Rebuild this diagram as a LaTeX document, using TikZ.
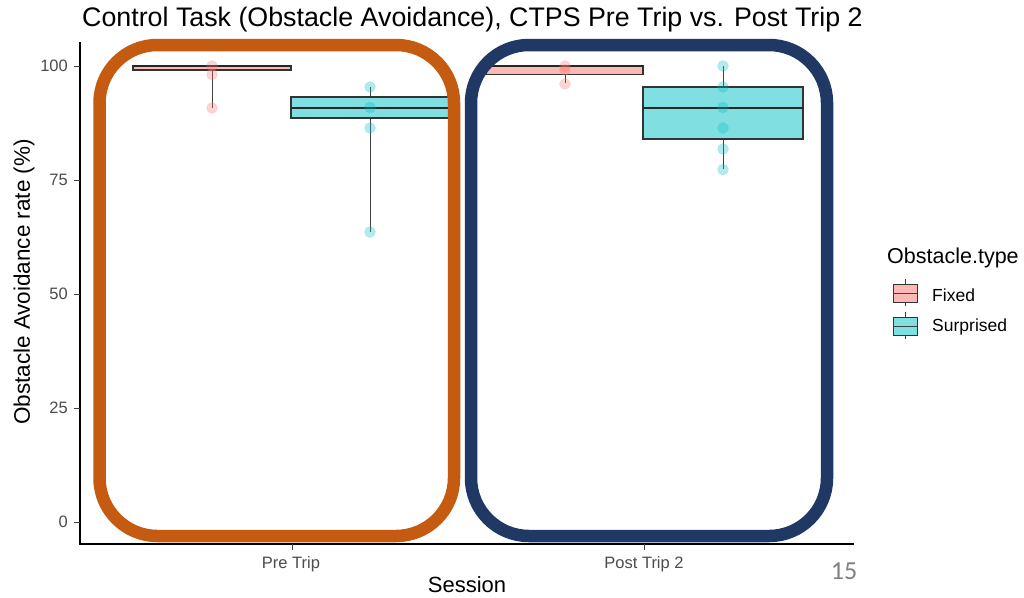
\documentclass[tikz,border=0pt]{standalone}
\usepackage{fontspec}
\setmainfont{Liberation Sans}
\newfontfamily\slidefont{Carlito}
\begin{document}
\begin{tikzpicture}[x=1pt,y=-1pt,
  axisline/.style={line width=1.1pt, draw=black},
  tickmark/.style={line width=0.8pt, draw=black!75},
  ticklabel/.style={font=\fontsize{16.5}{16.5}\selectfont, text=black!70},
  fixedbox/.style={draw=black!80, line width=1.1pt, fill=fixedfill},
  surpbox/.style={draw=black!80, line width=1.1pt, fill=surpfill},
  medianline/.style={draw=black!85, line width=2pt},
  whisker/.style={draw=black!75, line width=1pt},
  fixedpt/.style={circle, inner sep=0pt, minimum size=11pt, fill=fixedcol, fill opacity=0.3, draw=fixedcol, draw opacity=0.2},
  surppt/.style={circle, inner sep=0pt, minimum size=11pt, fill=surpcol, fill opacity=0.3, draw=surpcol, draw opacity=0.2},
  frame/.style={line width=12.5pt, rounded corners=58pt}]
\definecolor{fixedcol}{HTML}{F8766D}
\definecolor{surpcol}{HTML}{00BFC4}
\definecolor{fixedfill}{HTML}{FBB9B5}
\definecolor{surpfill}{HTML}{80DFE1}
\definecolor{framebrown}{HTML}{C55A11}
\definecolor{framenavy}{HTML}{203864}
\useasboundingbox[fill=white] (0,0) rectangle (1024,597);

% title
\node[anchor=west, font=\fontsize{26.8}{26.8}\selectfont, inner sep=0pt] (title) at (82,20) {Control Task (Obstacle Avoidance), CTPS Pre Trip vs. Post Trip 2};

% axes
\coordinate (origin) at (80,544);
\coordinate (ytop) at (80,42);
\coordinate (xend) at (854,544);
\draw[axisline] (ytop) -- (origin) -- (xend);

% y ticks and labels
\foreach \v/\yy in {0/522,25/408,50/294,75/180,100/66}{
  \coordinate (yt\v) at (74,\yy);
  \draw[tickmark] (yt\v) -- ++(6,0);
  \node[ticklabel, anchor=east, inner sep=0pt] (ylab\v) at (68,\yy) {\v};
}
% x ticks and labels
\coordinate (xtpre) at (292,544);
\coordinate (xtpost) at (644,544);
\draw[tickmark] (xtpre) -- ++(0,6);
\draw[tickmark] (xtpost) -- ++(0,6);
\node[ticklabel, inner sep=0pt] (xlabpre) at (291,564) {Pre Trip};
\node[ticklabel, inner sep=0pt] (xlabpost) at (644,564) {Post Trip 2};

% axis titles
\node[font=\fontsize{22.5}{22.5}\selectfont, rotate=90, inner sep=0pt] (ytitle) at (24,282) {Obstacle Avoidance rate (\%)};
\node[font=\fontsize{22}{22}\selectfont, inner sep=0pt] (xtitle) at (467,585) {Session};

% Pre Trip, Fixed
\draw[whisker] (212,70) -- (212,108);
\draw[fixedbox] (133,66) rectangle (291,70);
\draw[medianline] (133,66) -- (291,66);
\foreach \yy in {66,74.5,108} \node[fixedpt] at (212,\yy) {};

% Pre Trip, Surprised
\draw[whisker] (370,87) -- (370,97);
\draw[whisker] (370,118) -- (370,232);
\draw[surpbox] (291,97) rectangle (450,118);
\draw[medianline] (291,107.5) -- (450,107.5);
\foreach \yy in {87,107.5,128,232} \node[surppt] at (370,\yy) {};

% Post Trip 2, Fixed
\draw[whisker] (565,74.5) -- (565,83);
\draw[fixedbox] (486,66) rectangle (643,74.5);
\draw[medianline] (486,66) -- (643,66);
\foreach \yy in {66,70,84} \node[fixedpt] at (565,\yy) {};

% Post Trip 2, Surprised
\draw[whisker] (723,66) -- (723,87);
\draw[whisker] (723,139) -- (723,169);
\draw[surpbox] (643,87) rectangle (803,139);
\draw[medianline] (643,107.5) -- (803,107.5);
\foreach \yy in {66,87,107.5,128,149,169.5} \node[surppt] at (723,\yy) {};

% highlight frames
\draw[frame, draw=framebrown] (99.5,45) rectangle (454,536);
\draw[frame, draw=framenavy] (471,45) rectangle (827,536);

% legend
\node[anchor=west, font=\fontsize{21.5}{21.5}\selectfont, inner sep=0pt] (legtitle) at (887,258) {Obstacle.type};
\draw[whisker] (905,279) -- (905,306);
\draw[fixedbox, line width=1pt] (893,284) rectangle (917,302);
\draw[whisker] (893,293) -- (917,293);
\node[anchor=west, font=\fontsize{17.5}{17.5}\selectfont, inner sep=0pt] (legfixed) at (932,295) {Fixed};
\draw[whisker] (905,312) -- (905,339);
\draw[surpbox, line width=1pt] (893,317) rectangle (917,335);
\draw[whisker] (893,326) -- (917,326);
\node[anchor=west, font=\fontsize{17.5}{17.5}\selectfont, inner sep=0pt] (legsurp) at (932,327) {Surprised};

% slide number
\node[font=\slidefont\fontsize{26}{26}\selectfont, text=black!50, inner sep=0pt] (pagenum) at (844,571) {15};
\end{tikzpicture}
\end{document}
